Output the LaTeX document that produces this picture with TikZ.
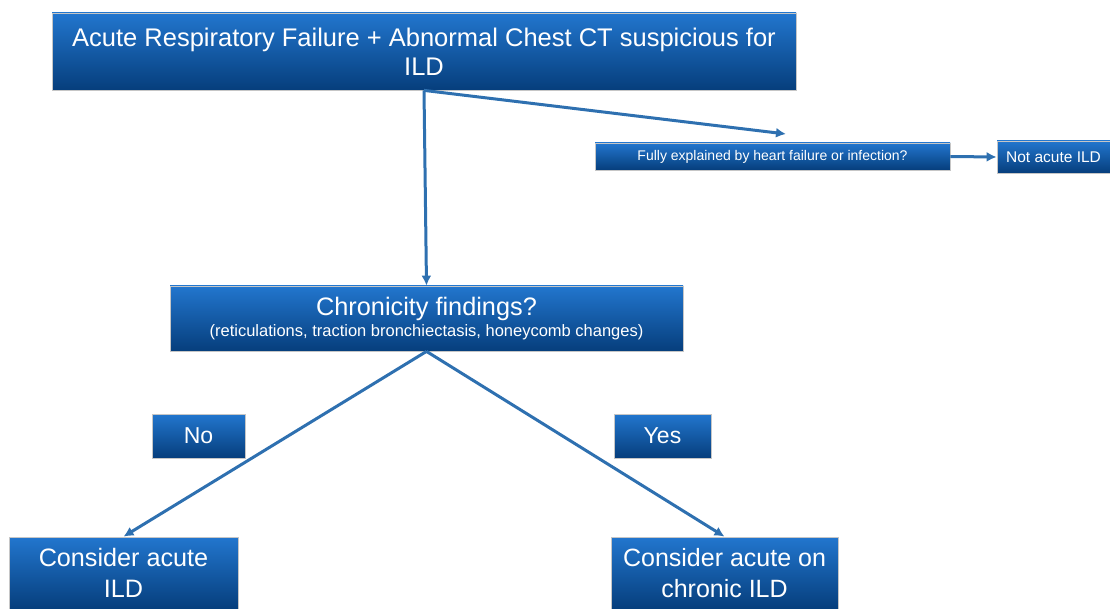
\documentclass[tikz,border=0pt]{standalone}
\usepackage{fontspec}
\setmainfont{Liberation Sans}
\usetikzlibrary{arrows.meta}
\definecolor{boxtop}{RGB}{34,118,206}
\definecolor{boxbot}{RGB}{6,62,124}
\definecolor{arrowblue}{RGB}{46,112,176}
\begin{document}
\begin{tikzpicture}[x=1pt, y=-1pt,
  main/.style = {draw=gray!45, line width=0.8pt, top color=boxtop, bottom color=boxbot,
    text=white, align=center, inner sep=0pt},
  link/.style = {draw=arrowblue, line width=3pt, -{Latex[length=10pt,width=10pt]}}]
\useasboundingbox (0,0) rectangle (1110,609);
\node[main, minimum width=744pt, minimum height=77pt, font=\fontsize{25.5}{29}\selectfont] (1) at (424,51.5)
  {Acute Respiratory Failure + Abnormal Chest CT suspicious for\\ILD};
\node[main, minimum width=355pt, minimum height=27pt, font=\fontsize{14}{16}\selectfont] (2) at (772.5,156.5)
  {Fully explained by heart failure or infection?};
\node[main, minimum width=113pt, minimum height=32pt, font=\fontsize{15.5}{18}\selectfont] (3) at (1053.5,157)
  {Not acute ILD};
\node[main, minimum width=513pt, minimum height=65pt] (4) at (426.5,318.5)
  {{\fontsize{25.3}{28}\selectfont Chronicity findings?}\\[3pt]{\fontsize{16.5}{18}\selectfont (reticulations, traction bronchiectasis, honeycomb changes)}};
\node[main, minimum width=93pt, minimum height=44pt, font=\fontsize{23}{27}\selectfont] (5) at (198.5,436) {No};
\node[main, minimum width=97pt, minimum height=44pt, font=\fontsize{23}{27}\selectfont] (6) at (662.5,436) {Yes};
\node[main, minimum width=229pt, minimum height=72pt, font=\fontsize{25.2}{31}\selectfont] (7) at (123.5,573)
  {Consider acute\\ILD};
\node[main, minimum width=227pt, minimum height=72pt, font=\fontsize{25}{31}\selectfont] (8) at (724.5,573)
  {Consider acute on\\chronic ILD};
\coordinate (q) at (786,134);

\draw[link] (1.south) -- (4.north);
\draw[link] (1.south) -- (q);
\draw[link] (2.east) -- (3.west);
\draw[link] (4.south) -- (7.north);
\draw[link] (4.south) -- (8.north);
\end{tikzpicture}
\end{document}
